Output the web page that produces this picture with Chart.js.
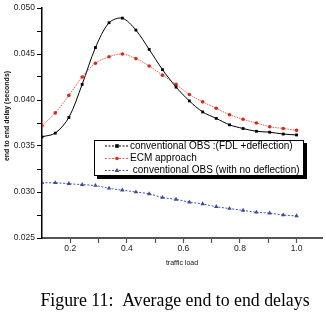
<!DOCTYPE html>
<html>
<head>
<meta charset="utf-8">
<script src="https://cdn.jsdelivr.net/npm/chart.js@4.4.0/dist/chart.umd.min.js"></script>
<style>
  html, body { margin: 0; padding: 0; background: #fff; }
  #wrap { width: 326px; height: 315px; }
</style>
</head>
<body>
<div id="wrap"><canvas id="chart" width="326" height="315"></canvas></div>
<script>
// traffic load (x) and average end to end delay in seconds (y)
const loads = [0.1, 0.147, 0.195, 0.242, 0.289, 0.337, 0.384, 0.432, 0.479, 0.526,
               0.574, 0.621, 0.668, 0.716, 0.763, 0.811, 0.858, 0.905, 0.953, 1.0];
const fdlDeflection = [0.0360, 0.0364, 0.0381, 0.0417, 0.0457, 0.0484, 0.0489, 0.0476, 0.0455, 0.0433,
                       0.0414, 0.0399, 0.0387, 0.0380, 0.0373, 0.0369, 0.0366, 0.0365, 0.0363, 0.0362];
const ecm = [0.0372, 0.0386, 0.0405, 0.0425, 0.0440, 0.0447, 0.0450, 0.0445, 0.0437, 0.0427,
             0.0417, 0.0406, 0.0398, 0.0391, 0.0384, 0.0379, 0.0375, 0.0371, 0.0369, 0.0367];
const noDeflection = [0.0310, 0.0310, 0.0309, 0.0308, 0.0307, 0.0304, 0.0302, 0.0300, 0.0298, 0.0294,
                      0.0292, 0.0289, 0.0287, 0.0284, 0.0282, 0.0280, 0.0278, 0.0277, 0.0275, 0.0274];

const seriesNames = ['conventional OBS :(FDL +deflection)', 'ECM approach', ' conventional OBS (with no deflection)'];
const xTickValues = [0.2, 0.3, 0.4, 0.5, 0.6, 0.7, 0.8, 0.9, 1.0];
const xTickLabels = ['0.2', '', '0.4', '', '0.6', '', '0.8', '', '1.0'];
const yTickValues = [0.025, 0.0275, 0.030, 0.0325, 0.035, 0.0375, 0.040, 0.0425, 0.045, 0.0475, 0.050];
const yTickLabels = ['0.025', '', '0.030', '', '0.035', '', '0.040', '', '0.045', '', '0.050'];
const xTitle = 'traffic load';
const yTitle = 'end to end delay (seconds)';
const caption = 'Figure 11:  Average end to end delays';

const SANS = '"Liberation Sans", Arial, sans-serif';
const SERIF = '"Liberation Serif", "Times New Roman", serif';

const pts = ys => ys.map((y, i) => ({ x: loads[i], y }));

const styles = [
  { line: '#000000', point: '#000000', dash: [], style: 'rect', r: 2 },
  { line: '#e8604c', point: '#d8281c', dash: [1.5, 1], style: 'circle', r: 1.8 },
  { line: '#4a5aa8', point: '#3a4a9c', dash: [2, 1.5], style: 'triangle', r: 2.6 }
];
const series = [fdlDeflection, ecm, noDeflection];

function drawMarker(ctx, s, x, y) {
  ctx.save();
  ctx.fillStyle = s.point;
  ctx.beginPath();
  if (s.style === 'rect') {
    ctx.rect(x - 1.8, y - 1.8, 3.6, 3.6);
  } else if (s.style === 'circle') {
    ctx.arc(x, y, s.r, 0, Math.PI * 2);
  } else {
    ctx.moveTo(x, y - 2.6);
    ctx.lineTo(x + 2.4, y + 1.6);
    ctx.lineTo(x - 2.4, y + 1.6);
    ctx.closePath();
  }
  ctx.fill();
  ctx.restore();
}

const decorations = {
  id: 'decorations',
  afterDraw(chart) {
    const ctx = chart.ctx;
    const area = chart.chartArea;
    ctx.save();

    // axis titles
    ctx.fillStyle = '#111';
    ctx.font = '7px ' + SANS;
    ctx.textAlign = 'center';
    ctx.textBaseline = 'middle';
    ctx.fillText(xTitle, (area.left + area.right) / 2, 263);
    ctx.save();
    ctx.translate(7, 116);
    ctx.rotate(-Math.PI / 2);
    ctx.font = 'bold 7px ' + SANS;
    ctx.fillText(yTitle, 0, 0);
    ctx.restore();

    // caption
    ctx.fillStyle = '#000';
    ctx.font = '17.8px ' + SERIF;
    ctx.textBaseline = 'alphabetic';
    ctx.fillText(caption, 175, 306);

    // legend box with shadow
    const bx = 94, by = 140, bw = 210, bh = 36;
    ctx.fillStyle = '#000';
    ctx.fillRect(bx + 3, by + 3, bw, bh);
    ctx.fillStyle = '#fff';
    ctx.fillRect(bx, by, bw, bh);
    ctx.strokeStyle = '#000';
    ctx.lineWidth = 1;
    ctx.strokeRect(bx + 0.5, by + 0.5, bw - 1, bh - 1);

    const rows = [146, 158.5, 170.5];
    ctx.font = '10px ' + SANS;
    ctx.textAlign = 'left';
    ctx.textBaseline = 'middle';
    styles.forEach((s, i) => {
      const y = rows[i];
      ctx.save();
      ctx.strokeStyle = s.line;
      ctx.lineWidth = 1;
      ctx.setLineDash([2, 1.5]);
      ctx.beginPath();
      ctx.moveTo(105, y);
      ctx.lineTo(128, y);
      ctx.stroke();
      ctx.restore();
      drawMarker(ctx, s, 117, y);
      ctx.fillStyle = '#000';
      ctx.fillText(seriesNames[i], 130, y);
    });
    ctx.restore();
  }
};

new Chart(document.getElementById('chart'), {
  type: 'line',
  data: {
    datasets: series.map((ys, i) => ({
      label: seriesNames[i],
      data: pts(ys),
      borderColor: styles[i].line,
      borderWidth: 1,
      borderDash: styles[i].dash,
      backgroundColor: styles[i].point,
      pointBackgroundColor: styles[i].point,
      pointBorderColor: styles[i].point,
      pointBorderWidth: 0,
      pointStyle: styles[i].style,
      pointRadius: styles[i].r,
      tension: 0.3,
      fill: false
    }))
  },
  options: {
    responsive: false,
    animation: false,
    events: [],
    layout: { padding: { top: 8, right: 4, left: 0, bottom: 0 } },
    plugins: { legend: { display: false }, tooltip: { enabled: false } },
    scales: {
      x: {
        type: 'linear',
        min: 0.1,
        max: 1.09,
        afterBuildTicks: s => { s.ticks = xTickValues.map(v => ({ value: v })); },
        afterFit: s => { s.height = 77; },
        ticks: {
          autoSkip: false,
          maxRotation: 0,
          padding: 1,
          color: '#222',
          font: { size: 8.5, family: SANS },
          callback: (v, i) => xTickLabels[i]
        },
        grid: { drawOnChartArea: false, tickLength: 5, tickColor: '#555', tickWidth: 1.2 },
        border: { color: '#555', width: 2 }
      },
      y: {
        min: 0.025,
        max: 0.050,
        afterBuildTicks: s => { s.ticks = yTickValues.map(v => ({ value: v })); },
        afterFit: s => { s.width = 42; },
        ticks: {
          autoSkip: false,
          padding: 2,
          color: '#222',
          font: { size: 8.5, family: SANS },
          callback: (v, i) => yTickLabels[i]
        },
        grid: { drawOnChartArea: false, tickLength: 5, tickColor: '#000', tickWidth: 1 },
        border: { color: '#000', width: 1.5 }
      }
    }
  },
  plugins: [decorations]
});
</script>
</body>
</html>
